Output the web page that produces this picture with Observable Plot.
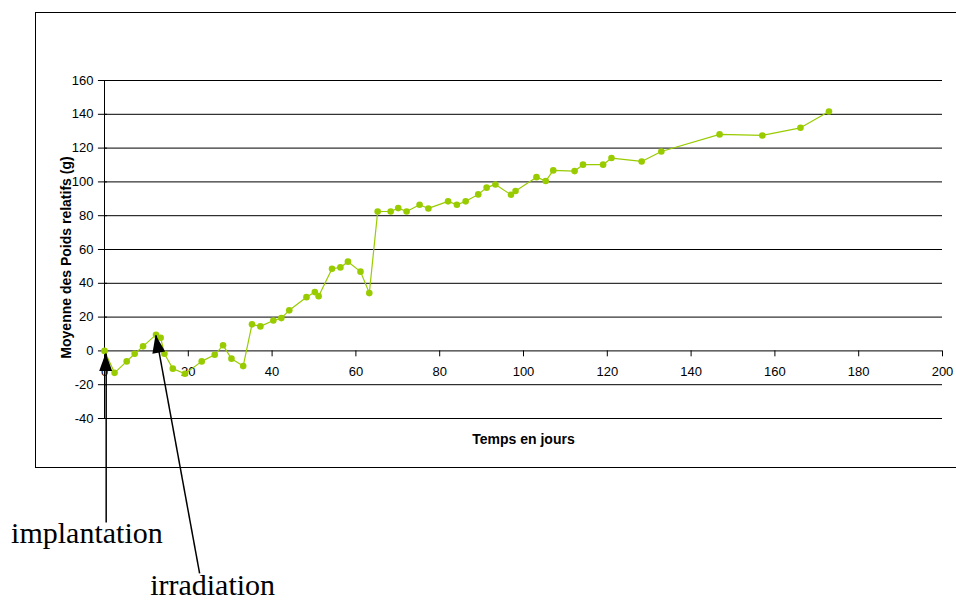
<!DOCTYPE html>
<html><head><meta charset="utf-8">
<script src="https://cdn.jsdelivr.net/npm/d3@7"></script>
<script src="https://cdn.jsdelivr.net/npm/@observablehq/plot@0.6"></script>
<style>
html,body{margin:0;padding:0;background:#fff;overflow:hidden;width:956px;height:600px;}
#frame{position:absolute;left:35px;top:12px;width:1000px;height:456px;border:1px solid #000;box-sizing:border-box;}
#chart{position:absolute;left:0;top:0;}
</style></head>
<body><div id="frame"></div><div id="chart"></div>
<script>
// Series: days since start, mean relative weight (g)
const days = [0, 2.4, 5.3, 7.2, 9.2, 12.3, 13.4, 14.3, 16.3, 19.2,
  23.2, 26.3, 28.3, 30.3, 33.1, 35.2, 37.2, 40.3, 42.2, 44.1,
  48.2, 50.2, 51.1, 54.3, 56.3, 58.1, 61.1, 63.2, 65.2, 68.3,
  70.1, 72.1, 75.2, 77.3, 82, 84.1, 86.2, 89.2, 91.2, 93.3,
  97, 98.1, 103.1, 105.3, 107.1, 112.2, 114.2, 119, 121, 128.2,
  132.9, 146.8, 157, 166.1, 172.9];
const values = [0, -13, -6.2, -1.7, 2.7, 9.6, 7.8, -1.7, -10.5, -13.5,
  -6.2, -2.3, 3.3, -4.6, -9, 15.7, 14.5, 18, 19.4, 24,
  31.8, 34.8, 32.4, 48.6, 49.4, 52.8, 46.9, 34.2, 82.5, 82.5,
  84.5, 82.5, 86.5, 84.3, 88.5, 86.5, 88.5, 92.6, 96.6, 98.5,
  92.4, 94.6, 102.8, 100.5, 106.8, 106.4, 110.2, 110.2, 114.1, 112.1,
  118, 128.1, 127.5, 132, 141.7];

const xTicks = [0, 20, 40, 60, 80, 100, 120, 140, 160, 180, 200];
const yTicks = [-40, -20, 0, 20, 40, 60, 80, 100, 120, 140, 160];
const xLabel = "Temps en jours";
const yLabel = "Moyenne des Poids relatifs (g)";

// Annotations (data units)
const annLabels = ["implantation", "irradiation"];
const annTipX = [0.4, 12.3];
const annTipY = [-1.5, 9.2];
const annTailX = [0.4, 22.7];
const annTailY = [-101.5, -131.7];
const annTextX = [-4.2, 25.8];
const annTextY = [-113.7, -144.3];

const green = "#99cc00";
const data = days.map((d, i) => ({day: d, value: values[i]}));
const ann = annLabels.map((label, i) => ({
  label, tipX: annTipX[i], tipY: annTipY[i], tailX: annTailX[i], tailY: annTailY[i],
  textX: annTextX[i], textY: annTextY[i]
}));

function arrowHeads(index, scales) {
  const g = d3.create("svg:g");
  if (!scales || !scales.x || !scales.y) return g.node();
  for (const a of ann) {
    const tx = scales.x(a.tipX), ty = scales.y(a.tipY);
    const sx = scales.x(a.tailX), sy = scales.y(a.tailY);
    const L = Math.hypot(sx - tx, sy - ty);
    const ux = (sx - tx) / L, uy = (sy - ty) / L;
    const len = 18, hw = 6.5;
    const bx = tx + ux * len, by = ty + uy * len;
    const px = -uy, py = ux;
    g.append("path")
      .attr("d", `M${tx},${ty}L${bx + px * hw},${by + py * hw}L${bx - px * hw},${by - py * hw}Z`)
      .attr("fill", "#000");
  }
  return g.node();
}

const chart = Plot.plot({
  width: 956,
  height: 600,
  marginLeft: 104,
  marginRight: 14,
  marginTop: 80,
  marginBottom: 182,
  x: {domain: [0, 200], axis: null},
  y: {domain: [-40, 160], axis: null},
  style: {background: "transparent", fontFamily: "'Liberation Sans', Arial, sans-serif", fontSize: "13px", color: "#000"},
  marks: [
    Plot.ruleY(yTicks, {y: d => d, stroke: "#000", strokeWidth: 1, strokeOpacity: 1}),
    Plot.ruleX([0], {x: d => d, y1: -40, y2: 160, stroke: "#000", strokeOpacity: 1}),
    Plot.ruleY(yTicks, {y: d => d, x1: -1.45, x2: 0.7, stroke: "#000", strokeOpacity: 1}),
    Plot.ruleX(xTicks, {x: d => d, y1: 0, y2: -3.5, stroke: "#000", strokeOpacity: 1}),
    Plot.text(yTicks, {x: 0, y: d => d, dx: -11, textAnchor: "end", text: d => String(d), fill: "#000"}),
    Plot.text(xTicks, {x: d => d, y: 0, dy: 20.5, text: d => String(d), fill: "#000"}),
    Plot.text([yLabel], {frameAnchor: "left", textAnchor: "middle", dx: -38, dy: 8, rotate: -90, text: d => d, fontWeight: "bold", fontSize: 14, fill: "#000"}),
    Plot.text([xLabel], {frameAnchor: "bottom", textAnchor: "middle", dy: 25, text: d => d, fontWeight: "bold", fontSize: 14, fill: "#000"}),
    Plot.line(data, {x: "day", y: "value", stroke: green, strokeWidth: 1.2}),
    Plot.dot(data, {x: "day", y: "value", r: 3.3, fill: green, stroke: "none"}),
    Plot.link(ann, {x1: "tailX", y1: "tailY", x2: "tipX", y2: "tipY", stroke: "#000", strokeWidth: 1.5}),
    arrowHeads,
    Plot.text(ann, {x: "textX", y: "textY", text: "label", lineAnchor: "bottom",
      fontFamily: "'Liberation Serif', 'Times New Roman', serif", fontSize: 30, fill: "#000"})
  ]
});
document.getElementById("chart").append(chart);
</script></body></html>
